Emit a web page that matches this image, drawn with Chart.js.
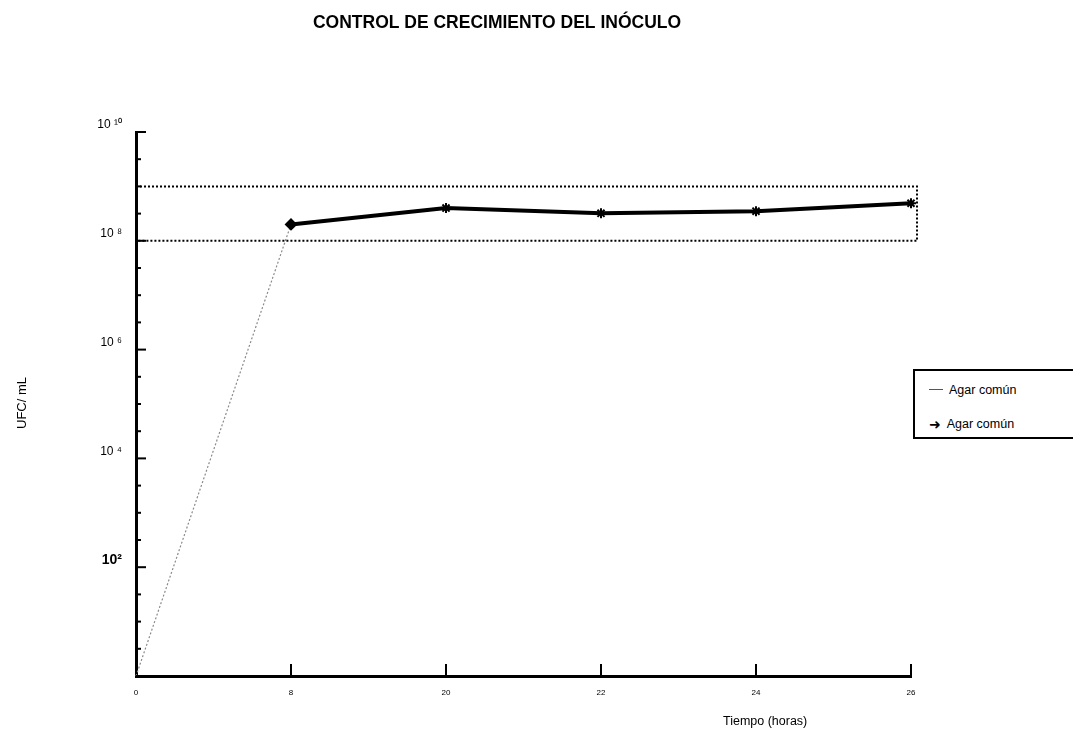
<!DOCTYPE html>
<html>
<head>
<meta charset="utf-8">
<script src="https://cdn.jsdelivr.net/npm/chart.js@4/dist/chart.umd.min.js"></script>
<style>
    html, body { margin: 0; padding: 0; background: #fff; overflow: hidden; }
    #wrap { position: relative; width: 1073px; height: 739px; }
    #legendBox {
        position: absolute; left: 913px; top: 369px; width: 170px; height: 66px;
        border: 2px solid #000; border-right: none; background: #fff;
        font-family: "Liberation Sans", Arial, sans-serif; font-size: 12.5px; color: #000;
    }
    .lg-item { position: absolute; left: 14px; height: 16px; line-height: 16px; }
    .lg-item span { display: inline-block; vertical-align: middle; }
</style>
</head>
<body>
<div id="wrap">
    <canvas id="Inoculo_Chart" width="1073" height="739"></canvas>
    <div id="legendBox"></div>
</div>
<script>
// data
var horas = ['0', '8', '20', '22', '24', '26'];
var agarLinea = [1, 2.0e8, 4.0e8, 3.2e8, 3.5e8, 4.9e8];
var agarMarca = [null, 2.0e8, 4.0e8, 3.2e8, 3.5e8, 4.9e8];
var serieNombres = ['Agar común', 'Agar común'];
var yTicks = [1, 1e2, 1e4, 1e6, 1e8, 1e10];
var yTickLabels = ['', '10²', '10 ⁴', '10 ⁶', '10 ⁸', '10 ¹⁰'];
var rangoBajo = 1e8;
var rangoAlto = 1e9;

var tituloTexto = 'CONTROL DE CRECIMIENTO DEL INÓCULO';
var ejeYTexto = 'UFC/ mL';
var ejeXTexto = 'Tiempo (horas)';

var FONT = "'Liberation Sans', Arial, sans-serif";

// extra drawing: range box, inward ticks, titles
var decorPlugin = {
    id: 'decor',
    afterDraw: function(chart) {
        var ctx = chart.ctx;
        var area = chart.chartArea;
        var ys = chart.scales.y;
        var xs = chart.scales.x;

        ctx.save();
        // range box (dotted)
        var yHi = ys.getPixelForValue(rangoAlto);
        var yLo = ys.getPixelForValue(rangoBajo);
        ctx.strokeStyle = '#000';
        ctx.lineWidth = 2;
        ctx.setLineDash([2, 2]);
        ctx.beginPath();
        ctx.moveTo(area.left, yHi);
        ctx.lineTo(area.right + 6, yHi);
        ctx.lineTo(area.right + 6, yLo);
        ctx.lineTo(area.left, yLo);
        ctx.stroke();
        ctx.setLineDash([]);

        // y inward ticks every half decade
        ctx.lineWidth = 2;
        for (var e = 0; e <= 20; e++) {
            var py = ys.getPixelForValue(Math.pow(10, e / 2));
            var len = (e % 4 === 0) ? 10 : 5;
            ctx.beginPath();
            ctx.moveTo(area.left, py);
            ctx.lineTo(area.left + len, py);
            ctx.stroke();
        }
        // x inward ticks
        for (var i = 1; i < horas.length; i++) {
            var px = xs.getPixelForValue(i);
            ctx.beginPath();
            ctx.moveTo(px, area.bottom);
            ctx.lineTo(px, area.bottom - 12);
            ctx.stroke();
        }

        // title
        ctx.fillStyle = '#000';
        ctx.font = 'bold 17.5px ' + FONT;
        ctx.textAlign = 'center';
        ctx.textBaseline = 'middle';
        ctx.fillText(tituloTexto, 497, 23);

        // x axis title
        ctx.font = '12.5px ' + FONT;
        ctx.textAlign = 'left';
        ctx.fillText(ejeXTexto, 723, 722);

        // y axis title
        ctx.translate(22, 403);
        ctx.rotate(-Math.PI / 2);
        ctx.font = '13px ' + FONT;
        ctx.textAlign = 'center';
        ctx.fillText(ejeYTexto, 0, 0);
        ctx.restore();
    }
};

var Inoculo_Chart = null;

function createInoculo_Chart() {
    var canvas = document.getElementById('Inoculo_Chart');

    if (Inoculo_Chart) {
        Inoculo_Chart.destroy();
    }

    Inoculo_Chart = new Chart(canvas, {
        type: 'line',
        data: {
            labels: horas,
            datasets: [
                {
                    label: serieNombres[0],
                    data: agarLinea,
                    borderColor: '#8a8a8a',
                    borderWidth: 1.2,
                    borderDash: [2, 2],
                    pointRadius: 0,
                    tension: 0,
                    clip: false,
                    order: 2,
                },
                {
                    label: serieNombres[1],
                    data: agarMarca,
                    borderColor: '#000',
                    backgroundColor: '#000',
                    borderWidth: 4,
                    pointStyle: ['star', 'rectRot', 'star', 'star', 'star', 'star'],
                    pointRadius: 5,
                    pointBorderWidth: 2,
                    tension: 0,
                    clip: false,
                    order: 1,
                }
            ]
        },
        options: {
            responsive: false,
            animation: false,
            layout: {
                padding: {
                    left: 0,
                    top: 132,
                    right: 162,
                    bottom: 0
                }
            },
            plugins: {
                legend: {
                    display: false
                },
                title: {
                    display: false
                },
                tooltip: {
                    enabled: false
                }
            },
            scales: {
                x: {
                    type: 'category',
                    offset: false,
                    grid: {
                        drawOnChartArea: false,
                        drawTicks: false
                    },
                    border: {
                        display: true,
                        color: '#000',
                        width: 3
                    },
                    ticks: {
                        color: '#000',
                        padding: 12,
                        maxRotation: 0,
                        font: {
                            family: FONT,
                            size: 8
                        }
                    },
                    afterFit: function(scale) {
                        scale.height = 63;
                    }
                },
                y: {
                    type: 'logarithmic',
                    min: 1,
                    max: 1e10,
                    grid: {
                        drawOnChartArea: false,
                        drawTicks: false
                    },
                    border: {
                        display: true,
                        color: '#000',
                        width: 3
                    },
                    afterBuildTicks: function(scale) {
                        scale.ticks = yTicks.map(function(v) { return { value: v }; });
                    },
                    ticks: {
                        color: '#000',
                        padding: 14,
                        labelOffset: -7,
                        callback: function(value, index) {
                            return yTickLabels[index];
                        },
                        font: function(ctx) {
                            if (ctx.index === 1) {
                                return { family: FONT, size: 14, weight: 'bold' };
                            }
                            return { family: FONT, size: 12 };
                        }
                    },
                    afterFit: function(scale) {
                        scale.width = 136;
                    }
                }
            }
        },
        plugins: [decorPlugin]
    });

    // html legend built from the datasets
    var box = document.getElementById('legendBox');
    box.innerHTML = '';
    Inoculo_Chart.data.datasets.forEach(function(ds, i) {
        var item = document.createElement('div');
        item.className = 'lg-item';
        item.style.top = (i === 0 ? 10 : 44) + 'px';
        var mark = document.createElement('span');
        if (i === 0) {
            mark.style.width = '14px';
            mark.style.borderTop = '1px solid #555';
            mark.style.marginRight = '6px';
        } else {
            mark.textContent = '➜';
            mark.style.fontFamily = "'DejaVu Sans', sans-serif";
            mark.style.fontSize = '14px';
            mark.style.fontWeight = 'bold';
            mark.style.marginRight = '6px';
        }
        var txt = document.createElement('span');
        txt.textContent = ds.label;
        item.appendChild(mark);
        item.appendChild(txt);
        box.appendChild(item);
    });
}

document.addEventListener('DOMContentLoaded', function() {
    createInoculo_Chart();
});
</script>
</body>
</html>
